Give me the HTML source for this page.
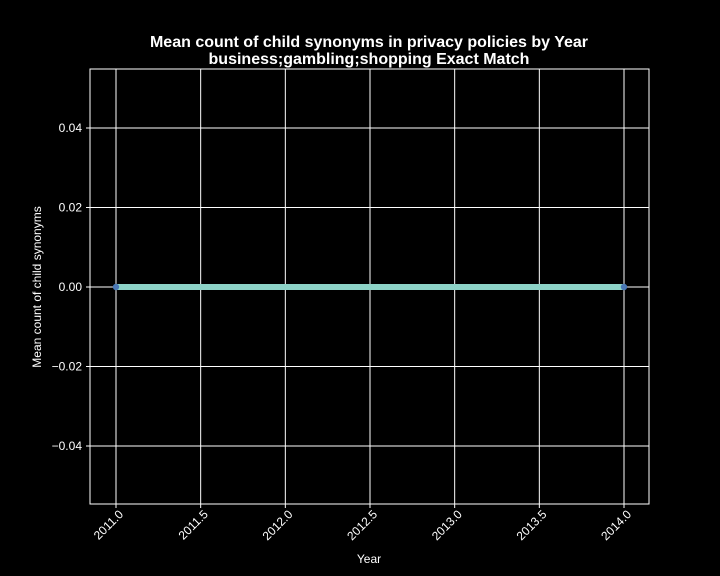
<!DOCTYPE html>
<html><head><meta charset="utf-8"><style>
html,body{margin:0;background:#000;width:720px;height:576px;overflow:hidden}
svg{display:block}
svg text{font-family:"Liberation Sans",sans-serif;fill:#fff}
</style></head><body>
<svg id="chart" width="720" height="576">
<rect width="720" height="576" fill="#000"/>
<text x="369" y="47" text-anchor="middle" font-size="16" font-weight="bold">Mean count of child synonyms in privacy policies by Year</text>
<text x="369" y="64" text-anchor="middle" font-size="16" font-weight="bold">business;gambling;shopping Exact Match</text>
<g id="grid"></g><g id="marks"></g><g id="axes"></g>
<text x="369" y="563" text-anchor="middle" font-size="12">Year</text>
<text transform="translate(41,287) rotate(-90)" text-anchor="middle" font-size="12">Mean count of child synonyms</text>
</svg>
<script>
const years=[2011,2014];
const values=[0,0];
const xTicks=[2011.0,2011.5,2012.0,2012.5,2013.0,2013.5,2014.0];
const yTicks=[-0.04,-0.02,0.00,0.02,0.04];
const L=90,R=649,T=69,B=504;
function xs(v){return 116+(v-2011)*(624-116)/3;}
function ys(v){return 287-v*(287-128)/0.04;}
const NS="http://www.w3.org/2000/svg";
function mk(tag,attrs,parent){const e=document.createElementNS(NS,tag);for(const k in attrs)e.setAttribute(k,attrs[k]);parent.appendChild(e);return e;}
const grid=document.getElementById('grid'),marks=document.getElementById('marks'),axes=document.getElementById('axes');
xTicks.forEach(t=>{const x=xs(t);
const g=mk('line',{x1:x,x2:x,y1:T,y2:B,stroke:'#fff','stroke-width':1},grid);


const tk=mk('line',{x1:x,x2:x,y1:B,y2:B+4,stroke:'#fff'},axes);


const tx=mk('text',{x:0,y:0,'font-size':12,'text-anchor':'end',transform:`translate(${x+8},${B+11}) rotate(-45)`},axes);
tx.textContent=t.toFixed(1);


});
yTicks.forEach(t=>{const y=ys(t);
const g=mk('line',{x1:L,x2:R,y1:y,y2:y,stroke:'#fff','stroke-width':1},grid);


const tk=mk('line',{x1:L-4,x2:L,y1:y,y2:y,stroke:'#fff'},axes);


const tx=mk('text',{x:L-8,y:y+4,'font-size':12,'text-anchor':'end'},axes);
tx.textContent=(Math.abs(t)<1e-9?0:t).toFixed(2).replace('-','\u2212');


});
const frame=mk('rect',{x:L,y:T,width:R-L,height:B-T,fill:'none',stroke:'#fff','stroke-width':1},axes);


const pts=years.map((y,i)=>xs(y)+','+ys(values[i])).join(' ');
const line=mk('polyline',{points:pts,fill:'none',stroke:'#8dd3c7','stroke-width':6},marks);


years.forEach((y,i)=>{const c=mk('circle',{cx:xs(y),cy:ys(values[i]),r:3.2,fill:'#4a78b5'},marks);


});
</script>
</body></html>
